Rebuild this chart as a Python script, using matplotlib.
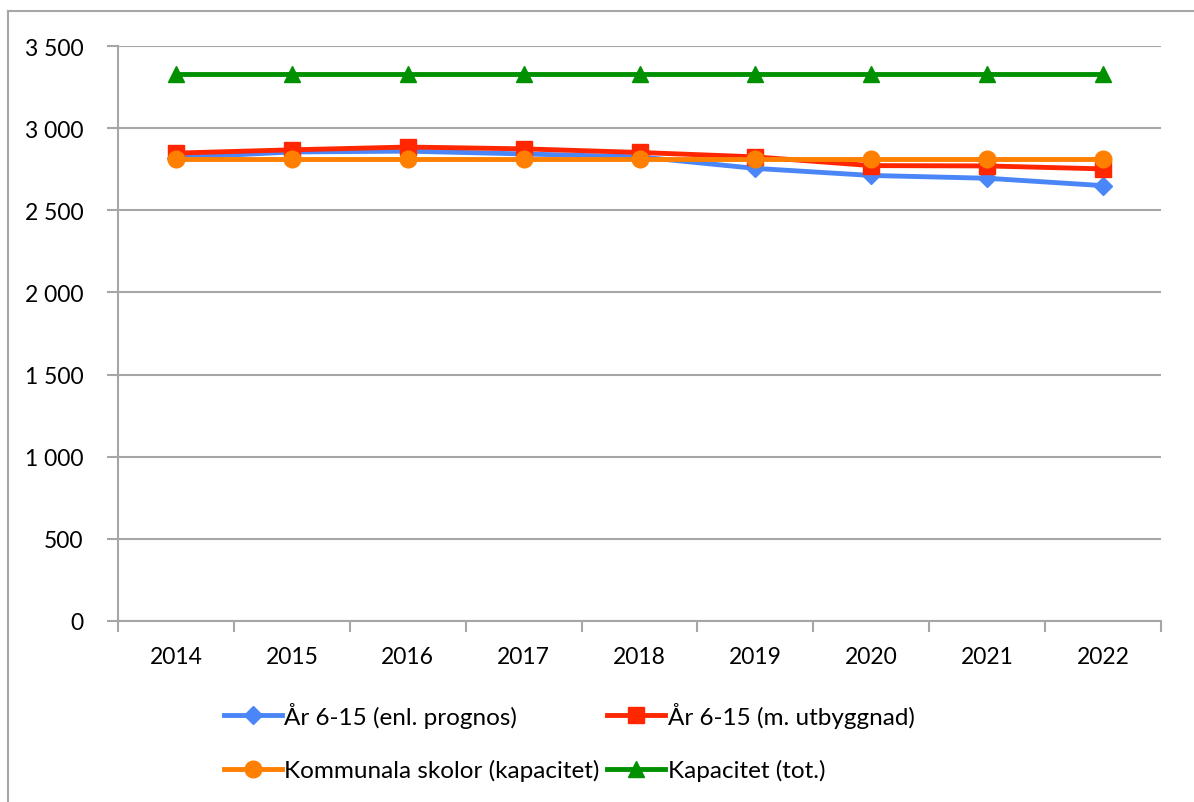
import matplotlib.pyplot as plt
from matplotlib.lines import Line2D
from matplotlib.ticker import FuncFormatter, FixedLocator

# Data
years = ["2014", "2015", "2016", "2017", "2018", "2019", "2020", "2021", "2022"]
prognos = [2820, 2855, 2860, 2843, 2825, 2755, 2712, 2695, 2650]
utbyggnad = [2848, 2868, 2885, 2874, 2852, 2825, 2772, 2770, 2752]
kommunala = [2810, 2810, 2810, 2810, 2810, 2810, 2810, 2810, 2810]
kapacitet = [3330, 3330, 3330, 3330, 3330, 3330, 3330, 3330, 3330]

plt.rcParams['font.family'] = ['Lato', 'DejaVu Sans']

fig = plt.figure(figsize=(11.94, 8.03), dpi=100)
ax = fig.add_axes([118 / 1194, 1 - 622 / 803, (1161 - 118) / 1194, (622 - 47) / 803])

x = list(range(len(years)))

l1, = ax.plot(x, prognos, color='#4a86f7', lw=3.5, marker='D', ms=9,
              label='År 6-15 (enl. prognos)', zorder=3)
l2, = ax.plot(x, utbyggnad, color='#ff2600', lw=3.5, marker='s', ms=11,
              label='År 6-15 (m. utbyggnad)', zorder=4)
l3, = ax.plot(x, kommunala, color='#ff7f00', lw=3.5, marker='o', ms=12,
              label='Kommunala skolor (kapacitet)', zorder=5)
l4, = ax.plot(x, kapacitet, color='#009000', lw=3.5, marker='^', ms=12,
              label='Kapacitet (tot.)', zorder=5)

ax.set_xlim(-0.5, len(years) - 0.5)
ax.set_ylim(0, 3500)
ax.set_yticks(range(0, 3501, 500))
ax.yaxis.set_major_formatter(FuncFormatter(lambda v, p: f"{int(v):,}".replace(",", " ")))
ax.yaxis.grid(True, color='#a6a6a6', lw=1.5)
ax.set_axisbelow(True)

# category ticks between labels, labels at centers
ax.xaxis.set_major_locator(FixedLocator([i - 0.5 for i in range(len(years) + 1)]))
ax.xaxis.set_minor_locator(FixedLocator(x))
ax.set_xticklabels([])
ax.set_xticklabels(years, minor=True)
ax.tick_params(axis='x', which='major', length=8, width=1.5, color='#a6a6a6', direction='out')
ax.tick_params(axis='x', which='minor', length=0, labelsize=16.5, pad=18)
ax.tick_params(axis='y', length=8, width=1.5, color='#a6a6a6', labelsize=16.5, pad=17)

for side in ['top', 'right']:
    ax.spines[side].set_visible(False)
for side in ['left', 'bottom']:
    ax.spines[side].set_color('#a6a6a6')
    ax.spines[side].set_linewidth(1.5)

# column-first fill: row 1 = l1, l2; row 2 = l3, l4
fig.legend([l1, l3, l2, l4], [l.get_label() for l in [l1, l3, l2, l4]],
           loc='upper left', bbox_to_anchor=(214 / 1194, 1 - 693 / 803), ncol=2,
           frameon=False, fontsize=17.5, handlelength=2.4, handletextpad=0.1,
           columnspacing=0.3, labelspacing=1.3, borderaxespad=0)

# outer frame (left and top only)
fig.add_artist(Line2D([8 / 1194, 8 / 1194], [0, 1 - 12 / 803], color='#a6a6a6', lw=1.5))
fig.add_artist(Line2D([8 / 1194, 1], [1 - 12 / 803, 1 - 12 / 803], color='#a6a6a6', lw=1.5))

fig.savefig('out.png', dpi=100)
